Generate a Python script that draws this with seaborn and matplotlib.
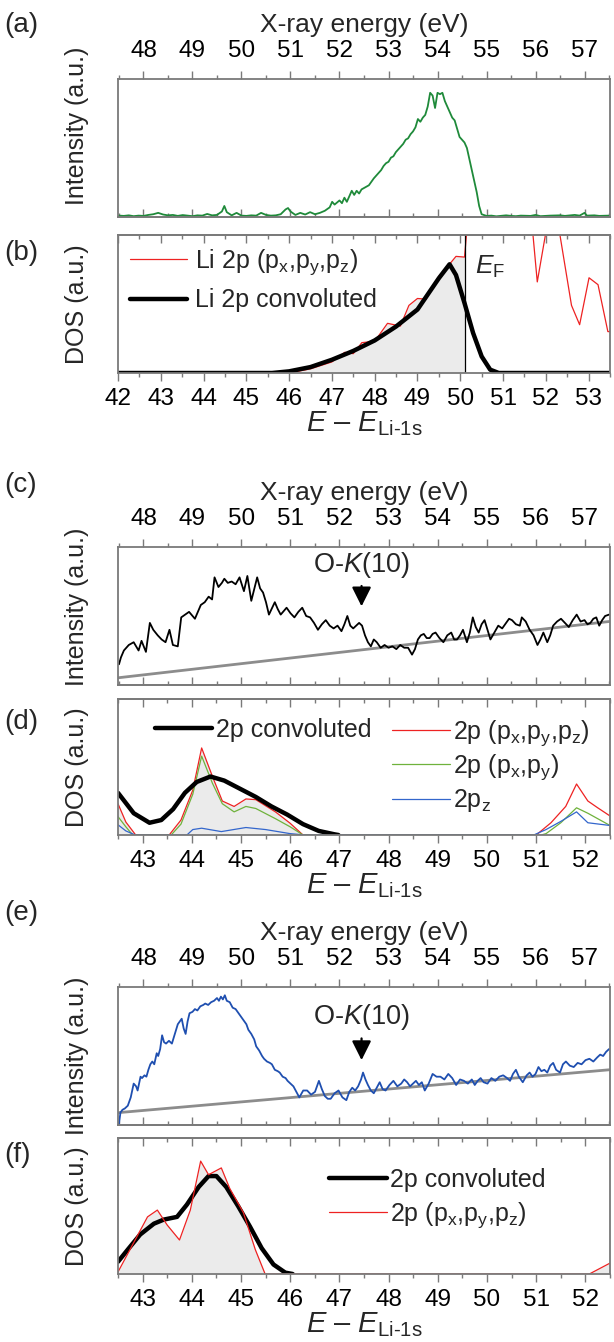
import numpy as np
import pandas as pd
import matplotlib
matplotlib.use("Agg")
import matplotlib.pyplot as plt
import seaborn as sns
from matplotlib.ticker import MultipleLocator
from matplotlib.lines import Line2D

sns.set_theme(style="white")
plt.rcParams["font.family"] = ["Liberation Sans", "DejaVu Sans"]
plt.rcParams["mathtext.fontset"] = "custom"
plt.rcParams["mathtext.rm"] = "Liberation Sans"
plt.rcParams["mathtext.it"] = "Liberation Sans:italic"
plt.rcParams["mathtext.bf"] = "Liberation Sans:bold"

# ---------------- data ----------------
# (a) Li spectrum (X-ray energy, eV)
a_energy = [47.50, 47.60, 47.70, 47.80, 47.90, 48.00, 48.10, 48.20, 48.30, 48.40, 48.50, 48.60, 48.70,
            48.80, 48.90, 49.00, 49.10, 49.20, 49.30, 49.40, 49.50, 49.60, 49.65, 49.70, 49.80, 49.90,
            50.00, 50.10, 50.20, 50.30, 50.40, 50.50, 50.60, 50.70, 50.80, 50.90, 50.95, 51.00, 51.10,
            51.20, 51.30, 51.40, 51.50, 51.60, 51.70, 51.80, 51.85, 51.90, 52.00, 52.05, 52.10, 52.15,
            52.20, 52.25, 52.30, 52.35, 52.40, 52.45, 52.50, 52.60, 52.70, 52.75, 52.80, 52.85, 52.90,
            52.95, 53.00, 53.05, 53.10, 53.15, 53.20, 53.25, 53.30, 53.35, 53.40, 53.45, 53.50, 53.55,
            53.60, 53.65, 53.70, 53.75, 53.80, 53.85, 53.90, 53.95, 54.00, 54.05, 54.10, 54.15, 54.20,
            54.25, 54.30, 54.35, 54.40, 54.45, 54.50, 54.55, 54.60, 54.65, 54.70, 54.75, 54.80, 54.85,
            54.90, 55.00, 55.10, 55.20, 55.40, 55.50, 55.60, 55.70, 55.90, 56.00, 56.10, 56.30, 56.50,
            56.60, 56.80, 56.90, 57.00, 57.05, 57.20, 57.30, 57.50]
a_intensity = [0.010, 0.008, 0.012, 0.006, 0.010, 0.008, 0.015, 0.020, 0.030, 0.018, 0.012, 0.015, 0.008,
               0.014, 0.010, 0.006, 0.012, 0.010, 0.022, 0.012, 0.015, 0.040, 0.080, 0.035, 0.012, 0.030,
               0.010, 0.008, 0.012, 0.010, 0.030, 0.015, 0.010, 0.012, 0.020, 0.055, 0.065, 0.040, 0.015,
               0.030, 0.018, 0.035, 0.020, 0.030, 0.045, 0.070, 0.110, 0.090, 0.120, 0.100, 0.140, 0.110,
               0.150, 0.190, 0.160, 0.190, 0.170, 0.200, 0.210, 0.230, 0.280, 0.300, 0.320, 0.340, 0.370,
               0.390, 0.400, 0.430, 0.440, 0.470, 0.490, 0.510, 0.530, 0.560, 0.570, 0.600, 0.620, 0.650,
               0.710, 0.690, 0.720, 0.740, 0.800, 0.900, 0.880, 0.790, 0.900, 0.890, 0.900, 0.840, 0.800,
               0.760, 0.720, 0.700, 0.640, 0.580, 0.560, 0.540, 0.500, 0.420, 0.340, 0.260, 0.180, 0.080,
               0.020, 0.008, 0.010, 0.005, 0.012, 0.008, 0.006, 0.010, 0.008, 0.015, 0.006, 0.010, 0.012,
               0.008, 0.015, 0.010, 0.030, 0.010, 0.012, 0.008, 0.010]

# (b) Li 2p DOS (E - E_Li-1s)
b_pdos_e = [42.0, 46.0, 46.5, 47.0, 47.3, 47.5, 47.7, 48.0, 48.3, 48.6, 48.8, 49.0, 49.2, 49.5, 49.7,
            49.9, 50.1, 50.2, 50.5, 51.0, 51.5, 51.7, 51.8, 51.99, 52.1, 52.33, 52.6, 52.79, 53.01,
            53.22, 53.45, 53.5]
b_pdos = [0.0, 0.0, 0.03, 0.08, 0.15, 0.14, 0.22, 0.23, 0.36, 0.34, 0.49, 0.54, 0.535, 0.70, 0.77,
          0.845, 0.84, 1.2, 1.6, 1.8, 1.5, 1.0, 0.66, 1.0, 1.3, 1.0, 0.49, 0.35, 0.69, 0.64, 0.30, 0.30]
b_conv_e = [42.0, 45.6, 46.0, 46.5, 47.0, 47.5, 48.0, 48.5, 49.0, 49.5, 49.75, 49.9, 50.1, 50.3,
            50.5, 50.7, 50.9, 53.5]
b_conv = [0.0, 0.0, 0.012, 0.043, 0.096, 0.16, 0.236, 0.337, 0.46, 0.687, 0.788, 0.71, 0.506, 0.29,
          0.12, 0.024, 0.0, 0.0]
b_fermi = 50.1

# (c) spectrum + linear background (X-ray energy, eV)
c_energy = [47.50, 47.54, 47.60, 47.70, 47.80, 47.90, 47.96, 48.05, 48.13, 48.20, 48.29, 48.37, 48.45,
            48.53, 48.60, 48.70, 48.77, 48.85, 48.93, 49.05, 49.17, 49.25, 49.33, 49.40, 49.45, 49.53,
            49.60, 49.65, 49.72, 49.80, 49.88, 49.96, 50.05, 50.12, 50.20, 50.32, 50.38, 50.44, 50.50,
            50.56, 50.68, 50.74, 50.80, 50.92, 51.00, 51.08, 51.16, 51.24, 51.32, 51.40, 51.48, 51.56,
            51.64, 51.72, 51.80, 51.88, 51.96, 52.04, 52.10, 52.16, 52.22, 52.28, 52.40, 52.46, 52.52,
            52.58, 52.64, 52.70, 52.76, 52.84, 52.92, 53.00, 53.08, 53.16, 53.24, 53.32, 53.40, 53.48,
            53.54, 53.60, 53.66, 53.72, 53.78, 53.84, 53.90, 53.96, 54.04, 54.12, 54.20, 54.28, 54.34,
            54.40, 54.46, 54.52, 54.60, 54.66, 54.72, 54.78, 54.84, 54.90, 54.96, 55.02, 55.08, 55.16,
            55.24, 55.32, 55.40, 55.46, 55.52, 55.60, 55.68, 55.72, 55.80, 55.88, 55.96, 56.04, 56.10,
            56.16, 56.24, 56.30, 56.36, 56.44, 56.52, 56.60, 56.68, 56.76, 56.84, 56.92, 57.00, 57.06,
            57.12, 57.18, 57.24, 57.30, 57.36, 57.42, 57.50]
c_intensity = [0.15, 0.20, 0.25, 0.29, 0.31, 0.25, 0.32, 0.24, 0.45, 0.40, 0.36, 0.33, 0.31,
               0.40, 0.29, 0.28, 0.49, 0.51, 0.53, 0.48, 0.58, 0.60, 0.64, 0.62, 0.78, 0.71,
               0.74, 0.77, 0.74, 0.75, 0.73, 0.78, 0.68, 0.79, 0.61, 0.78, 0.70, 0.67, 0.60,
               0.51, 0.60, 0.55, 0.51, 0.56, 0.52, 0.49, 0.53, 0.56, 0.50, 0.49, 0.45, 0.40,
               0.44, 0.47, 0.43, 0.41, 0.43, 0.39, 0.44, 0.50, 0.43, 0.41, 0.45, 0.43, 0.36,
               0.31, 0.28, 0.33, 0.31, 0.27, 0.29, 0.27, 0.28, 0.26, 0.29, 0.27, 0.27, 0.22,
               0.26, 0.33, 0.36, 0.37, 0.34, 0.34, 0.37, 0.38, 0.34, 0.31, 0.36, 0.38, 0.33,
               0.33, 0.36, 0.40, 0.31, 0.38, 0.49, 0.42, 0.38, 0.44, 0.47, 0.40, 0.33, 0.38,
               0.43, 0.41, 0.45, 0.48, 0.47, 0.44, 0.43, 0.49, 0.46, 0.40, 0.36, 0.29, 0.33,
               0.38, 0.31, 0.36, 0.43, 0.46, 0.48, 0.45, 0.42, 0.47, 0.51, 0.46, 0.47, 0.44,
               0.45, 0.48, 0.49, 0.43, 0.47, 0.50, 0.51]
c_bg_energy = [47.5, 57.5]
c_bg = [0.053, 0.46]

# (d) 2p DOS (E - E_Li-1s)
d_conv_e = [42.5, 42.82, 43.14, 43.38, 43.62, 43.86, 44.10, 44.38, 44.66, 44.98, 45.30, 45.62, 45.94,
            46.26, 46.58, 46.90, 46.98]
d_conv = [0.31, 0.16, 0.09, 0.11, 0.19, 0.31, 0.39, 0.43, 0.40, 0.34, 0.28, 0.21, 0.15, 0.08, 0.03,
          0.005, 0.0]
d_xyz_e = [42.5, 42.66, 42.86, 43.54, 43.78, 44.02, 44.20, 44.42, 44.62, 44.86, 45.10, 45.30, 45.70,
           46.00, 46.26, 51.00, 51.30, 51.60, 51.82, 52.05, 52.25, 52.50]
d_xyz = [0.23, 0.095, 0.0, 0.0, 0.11, 0.33, 0.64, 0.43, 0.25, 0.21, 0.265, 0.26, 0.17, 0.086, 0.0,
         0.0, 0.09, 0.21, 0.375, 0.25, 0.20, 0.14]
d_xy_e = [42.5, 42.66, 42.80, 43.58, 43.78, 44.02, 44.20, 44.42, 44.62, 44.86, 45.10, 45.30, 45.70,
          46.00, 46.26, 51.10, 51.20, 51.50, 51.82, 52.05, 52.50]
d_xy = [0.135, 0.06, 0.0, 0.0, 0.08, 0.30, 0.58, 0.38, 0.23, 0.17, 0.21, 0.195, 0.12, 0.06, 0.0,
        0.0, 0.01, 0.09, 0.20, 0.16, 0.07]
d_z_e = [42.5, 42.66, 42.85, 43.90, 44.02, 44.20, 44.60, 45.10, 45.50, 46.00, 46.30, 50.95, 51.20,
         51.50, 51.82, 52.05, 52.50]
d_z = [0.075, 0.03, 0.0, 0.0, 0.04, 0.05, 0.025, 0.055, 0.04, 0.01, 0.0, 0.0, 0.04, 0.10, 0.17,
       0.09, 0.07]
d_fill_end = 47.0

# (e) spectrum + linear background (X-ray energy, eV)
e_energy = [47.50, 47.53, 47.57, 47.62, 47.68, 47.74, 47.80, 47.85, 47.88, 47.94, 47.97, 48.02, 48.06,
            48.10, 48.14, 48.18, 48.22, 48.27, 48.30, 48.34, 48.38, 48.42, 48.46, 48.52, 48.58, 48.64,
            48.70, 48.74, 48.78, 48.82, 48.86, 48.90, 48.94, 49.00, 49.05, 49.10, 49.16, 49.22, 49.26,
            49.32, 49.38, 49.44, 49.50, 49.54, 49.58, 49.62, 49.66, 49.70, 49.76, 49.82, 49.88, 49.94,
            49.98, 50.04, 50.10, 50.14, 50.20, 50.26, 50.30, 50.36, 50.42, 50.46, 50.52, 50.58, 50.62,
            50.68, 50.74, 50.78, 50.84, 50.90, 50.94, 51.00, 51.06, 51.12, 51.18, 51.26, 51.34, 51.42,
            51.50, 51.58, 51.64, 51.70, 51.76, 51.82, 51.90, 51.98, 52.06, 52.14, 52.20, 52.26, 52.32,
            52.38, 52.44, 52.48, 52.53, 52.58, 52.64, 52.70, 52.76, 52.82, 52.88, 52.94, 53.02, 53.10,
            53.18, 53.26, 53.32, 53.38, 53.44, 53.50, 53.56, 53.62, 53.68, 53.74, 53.82, 53.90, 53.98,
            54.06, 54.14, 54.22, 54.30, 54.38, 54.46, 54.54, 54.62, 54.70, 54.76, 54.82, 54.88, 54.94,
            55.02, 55.10, 55.18, 55.26, 55.34, 55.42, 55.48, 55.54, 55.60, 55.66, 55.74, 55.82, 55.88,
            55.94, 56.00, 56.06, 56.12, 56.18, 56.24, 56.30, 56.36, 56.42, 56.50, 56.56, 56.62, 56.70,
            56.78, 56.86, 56.94, 57.02, 57.10, 57.18, 57.26, 57.32, 57.38, 57.44, 57.50]
e_intensity = [0.01, 0.09, 0.11, 0.12, 0.14, 0.20, 0.30, 0.28, 0.25, 0.35, 0.34, 0.36, 0.35,
               0.40, 0.44, 0.46, 0.44, 0.52, 0.50, 0.55, 0.65, 0.60, 0.59, 0.61, 0.59, 0.66,
               0.73, 0.75, 0.77, 0.70, 0.66, 0.75, 0.81, 0.82, 0.84, 0.83, 0.86, 0.87, 0.88,
               0.87, 0.89, 0.90, 0.92, 0.90, 0.93, 0.91, 0.94, 0.90, 0.89, 0.85, 0.84, 0.81,
               0.79, 0.76, 0.73, 0.69, 0.66, 0.62, 0.57, 0.54, 0.50, 0.48, 0.46, 0.45, 0.44,
               0.40, 0.39, 0.38, 0.35, 0.34, 0.32, 0.30, 0.28, 0.24, 0.20, 0.25, 0.25, 0.22,
               0.24, 0.32, 0.26, 0.21, 0.19, 0.19, 0.23, 0.25, 0.20, 0.18, 0.24, 0.27, 0.25,
               0.28, 0.33, 0.38, 0.33, 0.29, 0.25, 0.23, 0.27, 0.31, 0.26, 0.25, 0.29, 0.32,
               0.28, 0.30, 0.33, 0.31, 0.28, 0.30, 0.32, 0.29, 0.31, 0.25, 0.30, 0.37, 0.35,
               0.35, 0.33, 0.37, 0.34, 0.29, 0.33, 0.32, 0.30, 0.33, 0.29, 0.32, 0.34, 0.31,
               0.30, 0.34, 0.32, 0.35, 0.36, 0.34, 0.32, 0.37, 0.40, 0.35, 0.31, 0.36, 0.38,
               0.35, 0.37, 0.42, 0.39, 0.40, 0.38, 0.43, 0.45, 0.40, 0.38, 0.44, 0.46, 0.43,
               0.42, 0.45, 0.44, 0.47, 0.48, 0.46, 0.49, 0.51, 0.50, 0.53, 0.55]
e_bg_energy = [47.5, 57.5]
e_bg = [0.09, 0.40]

# (f) 2p DOS (E - E_Li-1s)
f_conv_e = [42.5, 42.70, 42.95, 43.23, 43.43, 43.70, 43.90, 44.14, 44.34, 44.50, 44.70, 44.94, 45.18,
            45.42, 45.66, 45.90, 46.05]
f_conv = [0.09, 0.18, 0.29, 0.37, 0.40, 0.42, 0.51, 0.64, 0.72, 0.72, 0.64, 0.50, 0.35, 0.19, 0.07,
          0.01, 0.0]
f_xyz_e = [42.5, 42.70, 43.10, 43.30, 43.50, 43.75, 43.97, 44.18, 44.34, 44.60, 44.77, 45.05, 45.29,
           45.49, 52.08, 52.50]
f_xyz = [0.015, 0.15, 0.42, 0.47, 0.36, 0.25, 0.47, 0.83, 0.73, 0.78, 0.63, 0.45, 0.18, 0.0, 0.0, 0.08]

ok_label_energy = 52.45

# ---------------- styling ----------------
W, H = 614, 1342
SPINE = "#7a7a7a"
FS_TICK = 17.5
FS_LAB = 18
FS_LEG = 18
FILL = "#ebebeb"
XLAB_DOS = "$\\mathit{E}$ \u2013 $\\mathit{E}_{\\mathrm{Li\u20101s}}$"

fig = plt.figure(figsize=(W / 100, H / 100), dpi=100)


def make_axes(top, bottom, ylab, ylab_y=None):
    ax = fig.add_axes([118 / W, 1 - bottom / H, (610 - 118) / W, (bottom - top) / H])
    for s in ax.spines.values():
        s.set_visible(True)
        s.set_color(SPINE)
        s.set_linewidth(1.3)
    ax.set_yticks([])
    ax.set_ylim(0, 1)
    yc = (top + bottom) / 2 if ylab_y is None else ylab_y
    fig.text(77 / W, 1 - yc / H, ylab, rotation=90, fontsize=FS_LAB, ha="center", va="center")
    return ax


def xray_axis(ax):
    ax.set_xlim(47.48, 57.52)
    ax.xaxis.set_major_locator(MultipleLocator(1))
    ax.xaxis.set_minor_locator(MultipleLocator(0.5))
    ax.xaxis.tick_top()
    ax.xaxis.set_label_position("top")
    ax.tick_params(axis="x", which="both", direction="out", colors=SPINE, labelcolor="black",
                   labelsize=FS_TICK, top=True, bottom=False, labeltop=True, labelbottom=False, pad=6)
    ax.tick_params(axis="x", which="major", length=6, width=1.0)
    ax.tick_params(axis="x", which="minor", length=3, width=1.0)
    ax.set_xlabel("X-ray energy (eV)", fontsize=19, labelpad=6)
    ax.set_ylabel("")
    sec = ax.secondary_xaxis("bottom")
    sec.xaxis.set_major_locator(MultipleLocator(1))
    sec.xaxis.set_minor_locator(MultipleLocator(0.5))
    sec.tick_params(axis="x", which="both", direction="in", colors=SPINE, labelbottom=False)
    sec.tick_params(axis="x", which="major", length=6, width=1.0)
    sec.tick_params(axis="x", which="minor", length=3, width=1.0)
    sec.spines["bottom"].set_color(SPINE)
    sec.spines["bottom"].set_linewidth(1.3)


def dos_axis(ax, xmin, xmax):
    ax.set_xlim(xmin, xmax)
    ax.xaxis.set_major_locator(MultipleLocator(1))
    ax.xaxis.set_minor_locator(MultipleLocator(0.5))
    ax.tick_params(axis="x", which="both", direction="out", colors=SPINE, labelcolor="black",
                   labelsize=FS_TICK, bottom=True, top=False, pad=5)
    ax.tick_params(axis="x", which="major", length=6, width=1.0)
    ax.tick_params(axis="x", which="minor", length=3, width=1.0)
    ax.set_xlabel(XLAB_DOS, fontsize=21, labelpad=-1)
    ax.set_ylabel("")
    sec = ax.secondary_xaxis("top")
    sec.xaxis.set_major_locator(MultipleLocator(1))
    sec.xaxis.set_minor_locator(MultipleLocator(0.5))
    sec.tick_params(axis="x", which="both", direction="in", colors=SPINE, labeltop=False)
    sec.tick_params(axis="x", which="major", length=6, width=1.0)
    sec.tick_params(axis="x", which="minor", length=3, width=1.0)
    sec.spines["top"].set_color(SPINE)
    sec.spines["top"].set_linewidth(1.3)


def line(ax, x, y, color, lw):
    df = pd.DataFrame({"x": x, "y": y})
    sns.lineplot(data=df, x="x", y="y", ax=ax, color=color, linewidth=lw,
                 estimator=None, sort=False, legend=False)


def panel_label(txt, y):
    fig.text(4 / W, 1 - y / H, txt, fontsize=20, va="center", ha="left")


LEG_KW = dict(loc="upper left", frameon=False, fontsize=FS_LEG, handlelength=2.3,
              borderpad=0, borderaxespad=0)

# ----- (a) -----
ax_a = make_axes(79, 217, "Intensity (a.u.)", ylab_y=126)
line(ax_a, a_energy, a_intensity, "#1f8a3a", 1.3)
xray_axis(ax_a)

# ----- (b) -----
ax_b = make_axes(235, 373, "DOS (a.u.)")
bx = np.array(b_pdos_e)
by = np.array(b_pdos)
mask = bx <= b_fermi
ax_b.fill_between(bx[mask], 0, by[mask], color=FILL, lw=0, zorder=0)
line(ax_b, b_pdos_e, b_pdos, "#ee2222", 0.9)
line(ax_b, b_conv_e, b_conv, "black", 3.2)
ax_b.axvline(b_fermi, color="black", lw=0.9)
ax_b.text(50.35, 0.77, r"$\mathit{E}_{\mathrm{F}}$", fontsize=19, ha="left", va="center")
dos_axis(ax_b, 42.0, 53.5)
hb = [Line2D([], [], color="#ee2222", lw=0.9), Line2D([], [], color="black", lw=3.2)]
ax_b.legend(hb, [r"Li 2p (p$_\mathrm{x}$,p$_\mathrm{y}$,p$_\mathrm{z}$)", "Li 2p convoluted"],
            bbox_to_anchor=(0.024, 0.91), handletextpad=0.3, labelspacing=0.45, **LEG_KW)

# ----- (c) -----
ax_c = make_axes(547, 685, "Intensity (a.u.)", ylab_y=607)
line(ax_c, c_bg_energy, c_bg, "#8c8c8c", 2.0)
line(ax_c, c_energy, c_intensity, "black", 1.3)
xray_axis(ax_c)
arrow = dict(arrowstyle="-|>,head_width=0.3,head_length=0.6", color="black", lw=1.6,
             shrinkA=2, shrinkB=0)
ax_c.annotate("O-$K$(10)", xy=(ok_label_energy, 0.57), xytext=(ok_label_energy, 0.87),
              ha="center", va="center", fontsize=19.5, arrowprops=arrow)

# ----- (d) -----
ax_d = make_axes(699, 835, "DOS (a.u.)")
dx = np.array(d_xyz_e)
dy = np.array(d_xyz)
m = dx <= d_fill_end
ax_d.fill_between(dx[m], 0, dy[m], color=FILL, lw=0, zorder=0)
line(ax_d, d_xyz_e, d_xyz, "#ee2222", 0.9)
line(ax_d, d_xy_e, d_xy, "#6fb23c", 0.9)
line(ax_d, d_z_e, d_z, "#3366cc", 0.9)
line(ax_d, d_conv_e, d_conv, "black", 3.2)
dos_axis(ax_d, 42.5, 52.5)
leg1 = ax_d.legend([Line2D([], [], color="black", lw=3.2)], ["2p convoluted"],
                   bbox_to_anchor=(0.075, 0.86), handletextpad=0.15, **LEG_KW)
ax_d.add_artist(leg1)
hd = [Line2D([], [], color="#ee2222", lw=0.9), Line2D([], [], color="#6fb23c", lw=0.9),
      Line2D([], [], color="#3366cc", lw=0.9)]
ax_d.legend(hd, [r"2p (p$_\mathrm{x}$,p$_\mathrm{y}$,p$_\mathrm{z}$)",
                 r"2p (p$_\mathrm{x}$,p$_\mathrm{y}$)", r"2p$_\mathrm{z}$"],
            bbox_to_anchor=(0.557, 0.86), handletextpad=0.15, labelspacing=0.2, **LEG_KW)

# ----- (e) -----
ax_e = make_axes(987, 1125, "Intensity (a.u.)")
line(ax_e, e_bg_energy, e_bg, "#8c8c8c", 2.0)
line(ax_e, e_energy, e_intensity, "#1f4fb0", 1.3)
xray_axis(ax_e)
ax_e.annotate("O-$K$(10)", xy=(ok_label_energy, 0.47), xytext=(ok_label_energy, 0.78),
              ha="center", va="center", fontsize=19.5, arrowprops=arrow)

# ----- (f) -----
ax_f = make_axes(1138, 1274, "DOS (a.u.)")
ax_f.fill_between(f_xyz_e, 0, f_xyz, color=FILL, lw=0, zorder=0)
line(ax_f, f_conv_e, f_conv, "black", 3.2)
line(ax_f, f_xyz_e, f_xyz, "#ee2222", 0.9)
dos_axis(ax_f, 42.5, 52.5)
hf = [Line2D([], [], color="black", lw=3.2), Line2D([], [], color="#ee2222", lw=0.9)]
ax_f.legend(hf, ["2p convoluted", r"2p (p$_\mathrm{x}$,p$_\mathrm{y}$,p$_\mathrm{z}$)"],
            bbox_to_anchor=(0.429, 0.78), handletextpad=0.15, labelspacing=0.35, **LEG_KW)

for lab, y in [("(a)", 25), ("(b)", 253), ("(c)", 485), ("(d)", 722), ("(e)", 913), ("(f)", 1155)]:
    panel_label(lab, y)

fig.savefig("out.png", dpi=100)
